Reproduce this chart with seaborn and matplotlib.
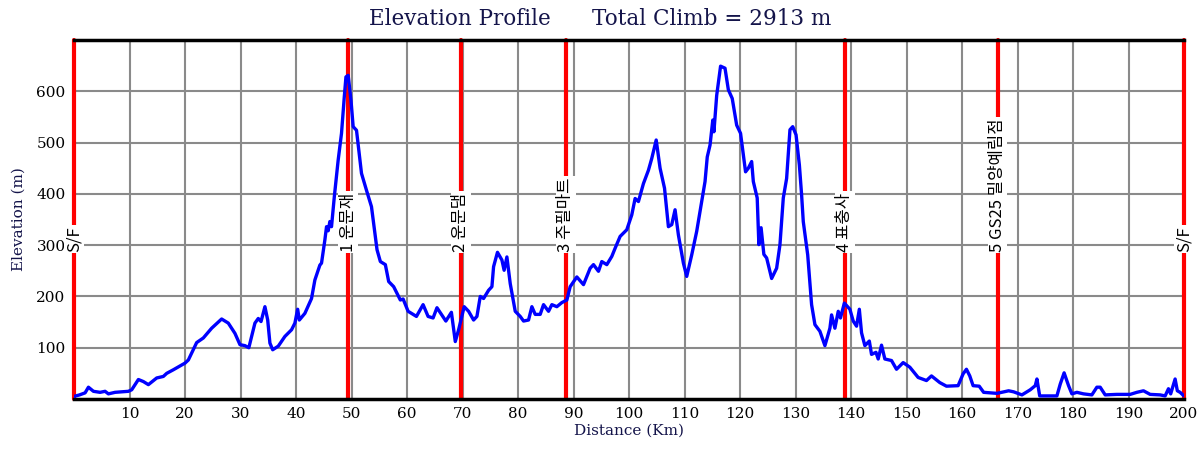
import matplotlib
matplotlib.use("Agg")
import matplotlib.pyplot as plt
import seaborn as sns
import pandas as pd

# ---- data ----
distance_km = [0, 1.0, 2.0, 2.6, 3.5, 4.7, 5.6, 6.2, 7.4, 9.8, 10.4, 11.6, 12.5, 13.4, 14.9,
               16.1, 16.7, 17.9, 20.0, 20.6, 22.1, 23.3, 24.8, 26.6, 27.8, 29.0, 29.9, 30.8,
               31.5, 32.0, 32.6, 33.2, 33.7, 34.4, 34.9, 35.3, 35.8, 36.8, 38.0, 39.2, 39.8,
               40.3, 40.6, 41.6, 42.8, 43.4, 44.3, 44.6, 45.2, 45.5, 45.8, 46.1, 46.4, 46.9,
               47.6, 48.2, 48.7, 49.0, 49.4, 49.9, 50.3, 50.9, 51.8, 52.7, 53.6, 54.6, 55.2,
               56.1, 56.7, 57.6, 58.8, 59.3, 60.2, 61.7, 62.9, 63.8, 64.7, 65.4, 66.2, 67.0,
               68.0, 68.7, 69.3, 70.3, 71.1, 72.0, 72.6, 73.2, 73.8, 74.7, 75.3, 75.6, 76.3,
               77.1, 77.5, 78.0, 78.6, 79.5, 80.4, 81.0, 81.9, 82.5, 83.1, 84.0, 84.6, 85.5,
               86.1, 87.0, 87.9, 88.8, 89.4, 90.6, 91.8, 93.0, 93.6, 94.5, 95.1, 96.0, 96.9,
               97.5, 98.4, 99.6, 100.5, 101.1, 101.7, 102.6, 103.5, 104.1, 104.9, 105.6,
               106.4, 107.1, 107.7, 108.3, 108.9, 109.8, 110.4, 111.3, 112.2, 113.1, 113.7,
               114.1, 114.6, 115.1, 115.3, 115.8, 116.5, 117.3, 117.9, 118.6, 119.4, 120.1,
               120.6, 121.0, 121.5, 122.1, 122.4, 123.1, 123.4, 123.8, 124.3, 124.8, 125.7,
               126.6, 127.2, 127.8, 128.4, 129.0, 129.5, 130.1, 130.7, 131.1, 131.4, 132.2,
               132.9, 133.5, 134.4, 135.3, 136.2, 136.5, 137.1, 137.7, 138.1, 138.8, 139.8,
               140.4, 141.0, 141.5, 141.9, 142.5, 143.3, 143.7, 144.5, 144.9, 145.5, 146.1,
               147.3, 148.2, 149.4, 150.6, 152.1, 153.6, 154.5, 156.0, 157.2, 159.3, 160.2,
               160.8, 161.4, 162.0, 163.1, 163.9, 166.3, 168.4, 169.3, 170.8, 172.3, 173.2,
               173.5, 174.0, 177.1, 177.7, 178.4, 179.2, 179.8, 180.7, 181.9, 183.4, 184.3,
               184.9, 185.8, 187.9, 190.3, 191.5, 192.7, 193.9, 195.7, 196.6, 197.2, 197.6,
               198.4, 198.8, 199.3, 200.0]
elevation_m = [5, 8, 12, 23, 15, 13, 15, 10, 13, 15, 18, 38, 34, 28, 41,
               44, 50, 57, 70, 76, 110, 119, 138, 156, 148, 128, 106, 104,
               100, 122, 148, 157, 151, 180, 154, 109, 96, 103, 122, 135, 148,
               175, 154, 167, 196, 232, 261, 265, 310, 336, 328, 346, 336, 394,
               466, 518, 589, 628, 631, 583, 531, 524, 440, 407, 375, 291, 268,
               262, 229, 219, 193, 195, 171, 161, 184, 161, 158, 178, 165, 152,
               169, 112, 135, 180, 171, 154, 161, 200, 196, 212, 219, 258, 286,
               271, 251, 277, 225, 171, 161, 152, 154, 180, 165, 165, 184, 171,
               184, 180, 188, 193, 219, 238, 223, 255, 262, 249, 268, 262, 278,
               294, 317, 330, 359, 391, 385, 420, 446, 469, 505, 450,
               411, 336, 340, 369, 320, 265, 239, 281, 327, 385, 424,
               472, 495, 544, 521, 592, 649, 645, 603, 586, 534, 518,
               476, 443, 450, 463, 424, 392, 301, 334, 282, 275, 235,
               255, 301, 392, 430, 525, 531, 515, 456, 398, 346, 281,
               184, 145, 132, 104, 138, 164, 138, 171, 158, 187, 175,
               152, 142, 175, 129, 104, 113, 87, 91, 78, 105, 78,
               75, 58, 71, 62, 42, 36, 45, 32, 25, 26, 49,
               58, 45, 26, 25, 13, 11, 16, 14, 8, 18, 26,
               39, 6, 6, 29, 51, 26, 10, 13, 10, 8, 23,
               23, 8, 9, 9, 13, 16, 9, 8, 6, 20, 10,
               39, 16, 13, 6]

marker_km = [0, 49.4, 69.7, 88.6, 138.9, 166.4, 200]
marker_labels = ["S/F", "1 운문재", "2 운문댐", "3 주필마트", "4 표충사", "5 GS25 밀양예림점", "S/F"]

x_ticks = [10, 20, 30, 40, 50, 60, 70, 80, 90, 100, 110, 120, 130, 140, 150, 160, 170, 180, 190, 200]
y_ticks = [100, 200, 300, 400, 500, 600]

title_text = "Elevation Profile      Total Climb = 2913 m"

# ---- plot ----
sns.set_style("white")
plt.rcParams['font.family'] = ['DejaVu Serif']

fig = plt.figure(figsize=(12, 4.5), dpi=100)
ax = fig.add_axes([74/1200, 1 - 399/450, (1184 - 74)/1200, (399 - 40)/450])

df = pd.DataFrame({"km": distance_km, "elev": elevation_m})

ax.set_xlim(0, 200)
ax.set_ylim(0, 700)
ax.set_xticks(x_ticks)
ax.set_yticks(y_ticks)
ax.grid(True, color="#8a8a8a", linewidth=1.5, zorder=0)
ax.set_axisbelow(True)

for km in marker_km:
    ax.axvline(km, color="#ff0000", linewidth=3, zorder=2, clip_on=False)

sns.lineplot(data=df, x="km", y="elev", ax=ax, color="#0000ff", linewidth=2.4, zorder=3)

for km, lab in zip(marker_km, marker_labels):
    ax.text(km, 287, lab, rotation=90, ha="center", va="bottom", fontsize=12,
            family=['Noto Sans CJK KR', 'DejaVu Sans'], color="black",
            bbox=dict(facecolor="white", edgecolor="none", pad=1.0), zorder=4)

for s in ["left", "right"]:
    ax.spines[s].set_visible(False)
for s in ["top", "bottom"]:
    ax.spines[s].set_visible(True)
    ax.spines[s].set_color("black")
    ax.spines[s].set_linewidth(2.5)

ax.tick_params(axis="both", length=0, labelsize=11, labelcolor="black", pad=6)
ax.set_xlabel("Distance (Km)", fontsize=11, color="#14144a", labelpad=2)
ax.set_ylabel("Elevation (m)", fontsize=11, color="#14144a", labelpad=8)

fig.text(0.5, 0.958, title_text, ha="center", va="center", fontsize=15.5, color="#14144a")

fig.savefig("out.png", dpi=100)
